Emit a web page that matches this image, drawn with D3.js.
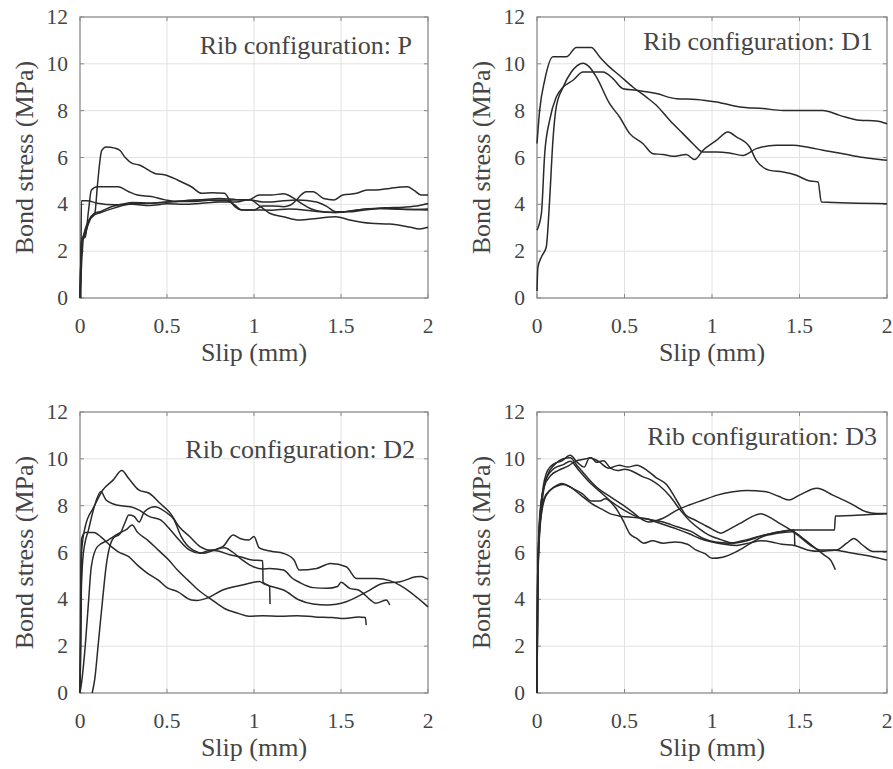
<!DOCTYPE html>
<html>
<head>
<meta charset="utf-8">
<script src="https://cdn.jsdelivr.net/npm/d3@7"></script>
<style>
  body { margin: 0; background: #fff; }
</style>
</head>
<body>
<div id="chart"></div>
<script>

// axis ticks shared by all four panels
var xTicks = [0, 0.5, 1, 1.5, 2];
var yTicks = [0, 2, 4, 6, 8, 10, 12];
var xLabel = "Slip (mm)";
var yLabel = "Bond stress (MPa)";
var panelTitles = ["Rib configuration: P", "Rib configuration: D1",
                   "Rib configuration: D2", "Rib configuration: D3"];
var serif = "Liberation Serif";

// ---- Rib configuration: P  (slip mm, stress MPa) ----
var p1 = [[0,0],[0.01,1.6],[0.02,2.6],[0.05,3.3],[0.085,3.6],[0.1,4.8],[0.125,6.3],[0.15,6.45],[0.2,6.4],[0.23,6.3],[0.26,6.0],[0.3,5.75],[0.34,5.68],[0.43,5.32],[0.49,5.25],[0.56,5.04],[0.64,4.75],[0.7,4.47],[0.76,4.5],[0.83,4.47],[0.86,4.18],[0.89,3.9],[0.93,3.76],[1.0,3.76],[1.1,3.75],[1.2,3.8],[1.3,3.75],[1.36,3.69],[1.47,3.65],[1.59,3.76],[1.74,3.83],[1.86,3.79],[2.0,3.76]];
var p2 = [[0,0],[0.01,2.5],[0.03,2.6],[0.05,3.8],[0.065,4.6],[0.1,4.75],[0.22,4.75],[0.28,4.54],[0.33,4.4],[0.41,4.33],[0.49,4.19],[0.56,4.12],[0.66,4.12],[0.76,4.19],[0.83,4.19],[0.89,3.97],[0.93,3.76],[1.0,3.76],[1.05,3.93],[1.11,3.93],[1.17,3.9],[1.21,3.97],[1.245,4.19],[1.27,4.4],[1.3,4.54],[1.34,4.54],[1.36,4.47],[1.4,4.25],[1.46,4.19],[1.51,4.4],[1.59,4.47],[1.65,4.61],[1.7,4.61],[1.78,4.68],[1.88,4.75],[1.92,4.6],[1.96,4.4],[2.0,4.4]];
var p3 = [[0.005,0],[0.008,4.15],[0.04,4.15],[0.1,4.05],[0.2,3.98],[0.3,4.0],[0.4,3.95],[0.5,4.02],[0.6,4.0],[0.7,4.05],[0.8,4.1],[0.9,4.1],[0.97,4.2],[1.05,4.1],[1.1,4.1],[1.17,4.15],[1.25,4.18],[1.36,4.1],[1.42,3.9],[1.47,3.68],[1.55,3.68],[1.65,3.77],[1.75,3.85],[1.86,3.88],[1.95,3.95],[2.0,4.04]];
var p4 = [[0,0],[0.01,2.5],[0.03,2.7],[0.05,3.3],[0.08,3.6],[0.12,3.7],[0.18,3.9],[0.25,4.02],[0.3,4.08],[0.4,4.05],[0.5,4.1],[0.6,4.15],[0.7,4.2],[0.8,4.15],[0.9,4.2],[0.97,4.2],[1.03,4.4],[1.1,4.4],[1.17,4.45],[1.22,4.3],[1.27,4.05],[1.33,3.8],[1.4,3.68],[1.47,3.65],[1.55,3.7],[1.6,3.76],[1.7,3.82],[1.8,3.8],[1.9,3.78],[2.0,3.8]];
var p5 = [[0,0],[0.01,2.4],[0.04,3.0],[0.07,3.5],[0.12,3.65],[0.2,3.85],[0.3,4.02],[0.4,4.05],[0.5,4.1],[0.6,4.15],[0.7,4.2],[0.8,4.25],[0.9,4.2],[0.98,4.18],[1.03,3.95],[1.09,3.62],[1.17,3.47],[1.26,3.33],[1.36,3.4],[1.47,3.47],[1.55,3.33],[1.67,3.19],[1.78,3.16],[1.9,3.02],[1.95,2.95],[2.0,3.02]];

// ---- Rib configuration: D1 ----
var d1a = [[0,6.6],[0.015,8.0],[0.044,9.3],[0.091,10.3],[0.168,10.3],[0.225,10.7],[0.31,10.7],[0.358,10.3],[0.415,9.86],[0.472,9.5],[0.549,9.0],[0.625,8.58],[0.682,8.23],[0.758,7.59],[0.834,7.02],[0.891,6.59],[0.949,6.23],[1.025,6.23],[1.1,6.19],[1.177,6.09],[1.253,6.38],[1.368,6.52],[1.463,6.52],[1.539,6.45],[1.634,6.31],[1.749,6.16],[1.844,6.02],[1.92,5.95],[2.0,5.88]];
var d1b = [[0,0.3],[0.005,1.3],[0.025,1.75],[0.053,2.18],[0.072,4.17],[0.091,6.73],[0.11,8.16],[0.149,9.0],[0.196,9.65],[0.263,10.03],[0.3,9.86],[0.339,9.44],[0.415,8.3],[0.472,7.73],[0.53,7.02],[0.606,6.59],[0.663,6.16],[0.72,6.13],[0.777,6.05],[0.853,6.13],[0.9,5.91],[0.949,6.31],[1.025,6.73],[1.091,7.09],[1.139,6.88],[1.215,6.45],[1.253,5.88],[1.33,5.45],[1.406,5.38],[1.482,5.24],[1.549,5.02],[1.606,4.95],[1.625,4.1],[2.0,4.03]];
var d1c = [[0,2.9],[0.025,3.6],[0.044,6.16],[0.072,7.59],[0.11,8.58],[0.149,9.0],[0.206,9.3],[0.263,9.65],[0.377,9.65],[0.434,9.37],[0.491,8.94],[0.568,8.87],[0.682,8.73],[0.796,8.51],[0.91,8.48],[1.025,8.37],[1.158,8.16],[1.291,8.09],[1.406,8.01],[1.634,8.01],[1.73,7.8],[1.844,7.59],[1.939,7.56],[2.0,7.44]];

// ---- Rib configuration: D2 ----
var d2a = [[0,0],[0.005,3.0],[0.01,6.1],[0.03,7.1],[0.08,7.95],[0.13,8.66],[0.19,9.09],[0.24,9.5],[0.28,9.16],[0.34,8.66],[0.4,8.52],[0.46,8.1],[0.52,7.67],[0.57,7.1],[0.63,6.68],[0.69,6.25],[0.75,6.1],[0.82,6.25],[0.88,6.75],[0.92,6.6],[0.97,6.53],[1.0,6.68],[1.03,6.2],[1.1,6.05],[1.17,5.96],[1.23,5.68],[1.26,5.25],[1.36,5.32],[1.44,5.53],[1.53,5.39],[1.59,4.89],[1.7,4.89],[1.78,4.8],[1.84,4.6],[1.9,4.3],[1.95,4.0],[2.0,3.68]];
var d2b = [[0,0],[0.004,2.0],[0.008,4.5],[0.02,6.0],[0.05,7.0],[0.08,7.9],[0.12,8.6],[0.15,8.24],[0.21,8.03],[0.29,7.95],[0.34,7.81],[0.4,7.53],[0.46,7.4],[0.52,6.96],[0.57,6.53],[0.63,6.1],[0.69,5.97],[0.75,6.1],[0.8,6.05],[0.86,5.9],[0.92,5.82],[0.99,5.68],[1.05,5.65],[1.052,4.73],[1.09,4.55],[1.092,3.8]];
var d2c = [[0.07,0],[0.085,0.6],[0.105,2.1],[0.13,4.0],[0.15,5.4],[0.19,6.6],[0.23,6.8],[0.26,7.3],[0.28,7.6],[0.31,7.55],[0.34,7.3],[0.37,7.74],[0.43,7.95],[0.49,7.74],[0.54,7.4],[0.58,6.7],[0.65,6.1],[0.71,5.97],[0.77,6.1],[0.83,6.2],[0.88,6.0],[0.93,5.7],[0.98,5.45],[1.05,5.3],[1.09,5.32],[1.17,5.25],[1.22,4.9],[1.26,4.73],[1.34,4.5],[1.42,4.47],[1.48,4.55],[1.5,4.73],[1.55,4.47],[1.6,4.4],[1.67,3.97],[1.7,3.83],[1.76,3.97],[1.78,3.76]];
var d2d = [[0,0],[0.01,0.5],[0.03,2.0],[0.05,4.0],[0.065,5.4],[0.1,6.25],[0.16,6.52],[0.22,6.8],[0.27,7.0],[0.3,7.17],[0.33,6.87],[0.39,6.52],[0.45,6.1],[0.51,5.68],[0.56,5.25],[0.62,4.82],[0.68,4.4],[0.76,3.97],[0.83,3.61],[0.91,3.4],[0.97,3.28],[1.05,3.3],[1.15,3.28],[1.25,3.3],[1.35,3.25],[1.45,3.22],[1.52,3.18],[1.6,3.25],[1.64,3.22],[1.645,2.9]];
var d2e = [[0,0],[0.005,5.5],[0.01,6.6],[0.03,6.85],[0.08,6.85],[0.12,6.67],[0.18,6.25],[0.22,6.03],[0.28,5.82],[0.33,5.46],[0.39,5.1],[0.45,4.82],[0.5,4.5],[0.56,4.33],[0.64,3.97],[0.67,3.95],[0.73,4.05],[0.82,4.4],[0.94,4.62],[1.03,4.76],[1.06,4.65],[1.1,4.55],[1.17,4.4],[1.26,3.97],[1.34,3.8],[1.42,3.76],[1.53,3.9],[1.65,4.33],[1.74,4.68],[1.84,4.75],[1.93,4.96],[1.96,4.98],[2.0,4.86]];

// ---- Rib configuration: D3 ----
var d3a = [[0,0],[0.003,4.5],[0.01,6.5],[0.03,8.5],[0.06,9.5],[0.1,9.8],[0.14,9.9],[0.19,10.15],[0.23,9.85],[0.27,9.65],[0.3,10.05],[0.35,9.9],[0.41,9.6],[0.47,9.73],[0.52,9.65],[0.57,9.73],[0.63,9.5],[0.68,9.2],[0.74,8.9],[0.8,8.2],[0.85,7.6],[0.9,7.4],[0.95,7.2],[1.0,7.0],[1.05,6.82],[1.1,7.0],[1.16,7.24],[1.22,7.5],[1.28,7.65],[1.33,7.5],[1.37,7.32],[1.45,6.96],[1.5,6.68],[1.56,6.32],[1.62,6.11],[1.71,6.11],[1.77,6.4],[1.81,6.6],[1.86,6.32],[1.92,6.04],[2.0,6.04]];
var d3b = [[0,0],[0.003,4.0],[0.01,6.2],[0.03,8.2],[0.06,9.3],[0.1,9.75],[0.15,10.0],[0.19,10.05],[0.23,9.7],[0.26,9.45],[0.3,9.1],[0.34,8.8],[0.42,8.38],[0.49,8.03],[0.55,7.7],[0.59,7.46],[0.64,7.3],[0.72,7.46],[0.8,7.81],[0.87,8.03],[0.95,8.24],[1.03,8.45],[1.12,8.59],[1.2,8.65],[1.31,8.59],[1.38,8.4],[1.44,8.24],[1.5,8.45],[1.6,8.74],[1.69,8.45],[1.79,8.1],[1.88,7.74],[1.94,7.67],[2.0,7.67]];
var d3c = [[0,0],[0.004,5.0],[0.015,7.5],[0.04,8.8],[0.08,9.3],[0.12,9.5],[0.18,9.7],[0.22,9.9],[0.28,10.0],[0.31,10.05],[0.34,9.85],[0.38,9.92],[0.42,9.6],[0.46,9.5],[0.5,9.55],[0.55,9.45],[0.6,9.25],[0.65,9.1],[0.7,8.85],[0.76,8.4],[0.82,7.8],[0.88,7.3],[0.93,7.0],[0.98,6.75],[1.05,6.55],[1.12,6.4],[1.2,6.5],[1.28,6.7],[1.36,6.85],[1.47,6.96],[1.6,6.96],[1.7,6.96],[1.705,7.56],[1.8,7.58],[1.9,7.62],[2.0,7.65]];
var d3d = [[0,0],[0.004,4.5],[0.015,7.0],[0.04,8.3],[0.08,8.7],[0.12,8.85],[0.15,8.9],[0.2,8.75],[0.26,8.5],[0.31,8.2],[0.36,8.2],[0.39,8.3],[0.45,7.9],[0.5,7.25],[0.53,6.8],[0.57,6.6],[0.61,6.4],[0.66,6.5],[0.72,6.4],[0.79,6.45],[0.86,6.35],[0.91,6.1],[0.96,5.95],[1.0,5.75],[1.06,5.8],[1.14,6.04],[1.22,6.39],[1.29,6.68],[1.37,6.82],[1.46,6.89],[1.52,6.6],[1.58,6.25],[1.64,5.9],[1.68,5.65],[1.705,5.26]];
var d3e = [[0,0],[0.005,4.8],[0.02,7.3],[0.05,8.4],[0.1,8.8],[0.14,8.95],[0.19,8.8],[0.25,8.45],[0.31,8.1],[0.37,7.85],[0.42,7.65],[0.48,7.55],[0.55,7.5],[0.62,7.45],[0.68,7.3],[0.74,7.15],[0.8,7.0],[0.87,6.8],[0.93,6.6],[1.0,6.45],[1.07,6.35],[1.14,6.3],[1.21,6.4],[1.28,6.5],[1.34,6.45],[1.4,6.35],[1.47,6.3],[1.55,6.1],[1.62,6.05],[1.7,6.1],[1.78,6.0],[1.86,5.9],[1.93,5.8],[2.0,5.68]];
var d3f = [[0,0],[0.004,5.0],[0.02,7.8],[0.05,9.1],[0.1,9.6],[0.15,9.75],[0.19,9.9],[0.24,9.5],[0.3,9.0],[0.36,8.6],[0.42,8.2],[0.5,7.8],[0.58,7.5],[0.65,7.4],[0.72,7.3],[0.8,7.1],[0.88,6.9],[0.95,6.6],[1.02,6.45],[1.1,6.4],[1.2,6.55],[1.3,6.75],[1.4,6.9],[1.47,6.96],[1.473,6.3]];

var curvesP  = [p1, p2, p3, p4, p5];
var curvesD1 = [d1a, d1b, d1c];
var curvesD2 = [d2a, d2b, d2c, d2d, d2e];
var curvesD3 = [d3a, d3b, d3c, d3d, d3e, d3f];

var svg = d3.select("#chart").append("svg")
    .attr("width", 893)
    .attr("height", 769);

// one panel = frame, grid, ticks, labels, curves
function drawPanel(left, top, w, h, title, titleX, titleY, curves) {

  var x = d3.scaleLinear().domain([0, 2]).range([0, w]);
  var y = d3.scaleLinear().domain([0, 12]).range([h, 0]);

  var g = svg.append("g")
      .attr("transform", "translate(" + left + "," + top + ")")
      .attr("font-family", serif)
      .attr("fill", "#454545");

  // grid
  g.selectAll(".gx").data(xTicks).enter().append("line")
      .attr("x1", d => x(d)).attr("x2", d => x(d))
      .attr("y1", 0).attr("y2", h)
      .attr("stroke", "#e2e2e2").attr("stroke-width", 1);
  g.selectAll(".gy").data(yTicks).enter().append("line")
      .attr("x1", 0).attr("x2", w)
      .attr("y1", d => y(d)).attr("y2", d => y(d))
      .attr("stroke", "#e2e2e2").attr("stroke-width", 1);

  // inward tick marks on all four sides
  var tk = 4;
  g.selectAll(".tb").data(xTicks).enter().append("path")
      .attr("d", d => "M" + x(d) + "," + h + "v" + (-tk) + "M" + x(d) + ",0v" + tk)
      .attr("stroke", "#888");
  g.selectAll(".tl").data(yTicks).enter().append("path")
      .attr("d", d => "M0," + y(d) + "h" + tk + "M" + w + "," + y(d) + "h" + (-tk))
      .attr("stroke", "#888");

  // frame
  g.append("rect")
      .attr("x", 0).attr("y", 0)
      .attr("width", w).attr("height", h)
      .attr("fill", "none")
      .attr("stroke", "#8a8a8a")
      .attr("stroke-width", 1.2);

  // tick labels
  g.selectAll(".xl").data(xTicks).enter().append("text")
      .attr("x", d => x(d))
      .attr("y", h + 35)
      .attr("text-anchor", "middle")
      .attr("font-size", "21.5px")
      .text(d => d);
  g.selectAll(".yl").data(yTicks).enter().append("text")
      .attr("x", -12)
      .attr("y", d => y(d) + 7)
      .attr("text-anchor", "end")
      .attr("font-size", "21.5px")
      .text(d => d);

  // axis titles
  g.append("text")
      .attr("x", w / 2)
      .attr("y", h + 63)
      .attr("text-anchor", "middle")
      .attr("font-size", "26px")
      .text(xLabel);
  g.append("text")
      .attr("transform", "translate(-47," + (h / 2) + ") rotate(-90)")
      .attr("text-anchor", "middle")
      .attr("font-size", "26px")
      .text(yLabel);

  // curves
  var line = d3.line()
      .x(d => x(d[0]))
      .y(d => y(d[1]))
      .curve(d3.curveMonotoneX);

  g.selectAll(".curve").data(curves).enter().append("path")
      .attr("d", d => line(d))
      .attr("fill", "none")
      .attr("stroke", "#2a2a2a")
      .attr("stroke-width", 1.5)
      .attr("stroke-linejoin", "round");

  // annotation in the top right corner
  g.append("text")
      .attr("x", titleX)
      .attr("y", titleY)
      .attr("text-anchor", "end")
      .attr("font-size", "26px")
      .text(title);
}

drawPanel(80, 17, 348, 281, panelTitles[0], 332, 37, curvesP);
drawPanel(537, 17, 350, 281, panelTitles[1], 336, 33, curvesD1);
drawPanel(80, 412, 348, 281, panelTitles[2], 335, 46, curvesD2);
drawPanel(537, 412, 350, 281, panelTitles[3], 340, 33, curvesD3);

</script>
</body>
</html>
